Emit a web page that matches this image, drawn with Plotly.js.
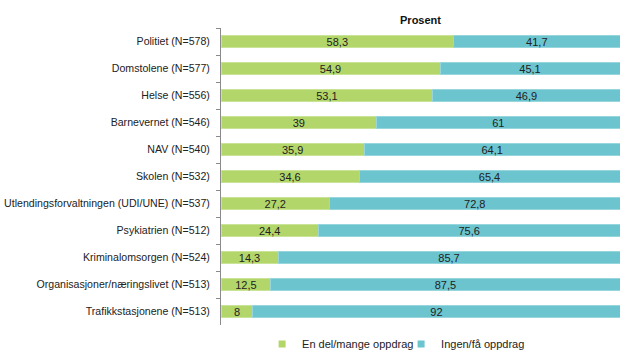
<!DOCTYPE html>
<html>
<head>
<meta charset="utf-8">
<script src="https://cdn.plot.ly/plotly-3.0.1.min.js"></script>
<style>html,body{margin:0;padding:0;background:#fff}#chart{width:620px;height:360px}</style>
</head>
<body>
<div id="chart"></div>
<script>
const categories = [
  "Politiet (N=578)",
  "Domstolene (N=577)",
  "Helse (N=556)",
  "Barnevernet (N=546)",
  "NAV (N=540)",
  "Skolen (N=532)",
  "Utlendingsforvaltningen (UDI/UNE) (N=537)",
  "Psykiatrien (N=512)",
  "Kriminalomsorgen (N=524)",
  "Organisasjoner/næringslivet (N=513)",
  "Trafikkstasjonene (N=513)"
];
const enDelMange = [58.3, 54.9, 53.1, 39, 35.9, 34.6, 27.2, 24.4, 14.3, 12.5, 8];
const ingenFaa = [41.7, 45.1, 46.9, 61, 64.1, 65.4, 72.8, 75.6, 85.7, 87.5, 92];
const seriesNames = ["En del/mange oppdrag", "Ingen/få oppdrag"];
const colors = ['#b3d66b', '#6bc4ce'];
const edgeColors = ['#c9e397', '#98d6dd'];

const fmt = v => String(v).replace('.', ',');
const font = "Liberation Sans, Arial, sans-serif";

const series = [enDelMange, ingenFaa];
const traces = series.map((vals, i) => ({
  type: 'bar', orientation: 'h', name: seriesNames[i],
  y: categories, x: vals,
  text: vals.map(fmt), textposition: 'inside', insidetextanchor: 'middle',
  constraintext: 'none', textangle: 0,
  textfont: {family: font, size: 11, color: '#222'},
  marker: {color: colors[i], line: {color: edgeColors[i], width: 1}},
  showlegend: false,
  hoverinfo: 'none'
}));
// legend-only entries with small square keys
seriesNames.forEach((n, i) => traces.push({
  type: 'scatter', mode: 'markers', name: n, x: [null], y: [null],
  marker: {symbol: 'square', size: 7, color: colors[i]},
  showlegend: true, hoverinfo: 'none'
}));

const layout = {
  width: 620, height: 360,
  margin: {l: 221, r: 0, t: 28, b: 35, pad: 0},
  barmode: 'stack',
  bargap: 0.56,
  paper_bgcolor: '#fff', plot_bgcolor: '#fff',
  font: {family: font, size: 11, color: '#222'},
  title: {text: '<b>Prosent</b>', x: 0.5, xref: 'paper', xanchor: 'center',
          y: 0.944, yref: 'container', yanchor: 'middle',
          font: {family: font, size: 11, color: '#111'}},
  xaxis: {range: [0, 100], visible: false, showgrid: false, zeroline: false, fixedrange: true},
  yaxis: {
    autorange: 'reversed', type: 'category',
    showline: true, linecolor: '#8a8a8a', linewidth: 1,
    ticks: 'outside', tickson: 'boundaries', ticklen: 4, tickcolor: '#8a8a8a',
    showgrid: false, zeroline: false,
    tickfont: {family: font, size: 10.6, color: '#222'},
    ticklabelstandoff: 8
  },
  showlegend: true,
  legend: {orientation: 'h', x: 0.103, xanchor: 'left', y: -0.015, yanchor: 'top',
           entrywidth: 94, entrywidthmode: 'pixels',
           font: {family: font, size: 11, color: '#222'}, traceorder: 'normal'}
};

Plotly.newPlot('chart', traces, layout, {displayModeBar: false, staticPlot: true});
</script>
</body>
</html>
